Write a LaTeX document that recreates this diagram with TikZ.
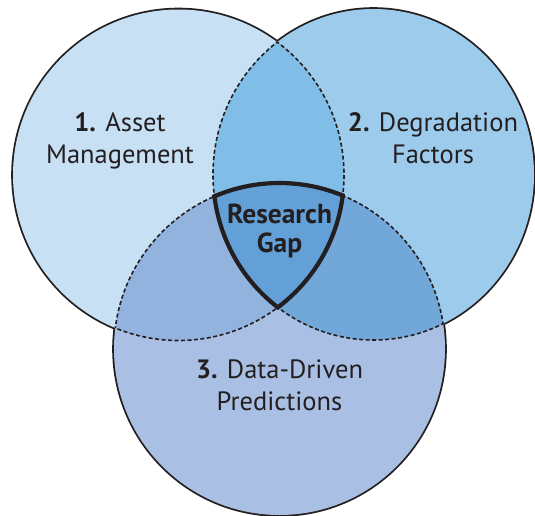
\documentclass[tikz,border=0pt]{standalone}
\usepackage{fontspec}
\setmainfont{PT Sans}
\begin{document}
\begin{tikzpicture}[x=1pt,y=-1pt,
  lbl/.style={align=center, text=ink, font=\fontsize{26.5}{32}\selectfont, inner sep=0pt},
  gaplbl/.style={align=center, text=ink, font=\bfseries\fontsize{27.5}{28.5}\selectfont, inner sep=0pt},
  outerline/.style={draw=ink, line width=3.6},
  innerline/.style={draw=ink, line width=1.6, dash pattern=on 4 off 2.5},
  gapline/.style={draw=ink, line width=4.2, line join=round}]
\definecolor{cA}{HTML}{C8E0F4}
\definecolor{cB}{HTML}{9DCBEC}
\definecolor{cC}{HTML}{AABFE4}
\definecolor{cAB}{HTML}{80BEE8}
\definecolor{cAC}{HTML}{93B3DF}
\definecolor{cBC}{HTML}{72A7DA}
\definecolor{cABC}{HTML}{63A0D7}
\definecolor{ink}{HTML}{231F20}
\useasboundingbox (0,0) rectangle (535,516);
\fill[white] (0,0) rectangle (535,516);
\coordinate (A) at (178.5,175);
\coordinate (B) at (373.5,174.5);
\coordinate (C) at (279.5,349);
% outer strokes (inner half later covered by fills)
\draw[outerline] (A) circle[x radius=165.5, y radius=165.5];
\draw[outerline] (B) circle[x radius=160.5, y radius=165.5];
\draw[outerline] (C) circle[x radius=165.5, y radius=166];
% fills
\fill[cA] (A) circle[x radius=165.5, y radius=165.5];
\fill[cB] (B) circle[x radius=160.5, y radius=165.5];
\fill[cC] (C) circle[x radius=165.5, y radius=166];
\begin{scope}
  \clip (A) circle[x radius=165.5, y radius=165.5];
  \fill[cAB] (B) circle[x radius=160.5, y radius=165.5];
  \fill[cAC] (C) circle[x radius=165.5, y radius=166];
\end{scope}
\begin{scope}
  \clip (B) circle[x radius=160.5, y radius=165.5];
  \fill[cBC] (C) circle[x radius=165.5, y radius=166];
\end{scope}
\begin{scope}
  \clip (A) circle[x radius=165.5, y radius=165.5];
  \clip (B) circle[x radius=160.5, y radius=165.5];
  \fill[cABC] (C) circle[x radius=165.5, y radius=166];
\end{scope}
% dashed inner arcs
\begin{scope}
  \clip (B) circle[x radius=160.5, y radius=165.5];
  \draw[innerline] (A) circle[x radius=165.5, y radius=165.5];
  \draw[innerline] (C) circle[x radius=165.5, y radius=166];
\end{scope}
\begin{scope}
  \clip (C) circle[x radius=165.5, y radius=166];
  \draw[innerline] (A) circle[x radius=165.5, y radius=165.5];
  \draw[innerline] (B) circle[x radius=160.5, y radius=165.5];
\end{scope}
\begin{scope}
  \clip (A) circle[x radius=165.5, y radius=165.5];
  \draw[innerline] (B) circle[x radius=160.5, y radius=165.5];
  \draw[innerline] (C) circle[x radius=165.5, y radius=166];
\end{scope}
% research gap outline
\begin{scope}
  \clip (B) circle[x radius=162.5, y radius=167.5];
  \clip (C) circle[x radius=167.5, y radius=168];
  \draw[gapline] (A) circle[x radius=165.5, y radius=165.5];
\end{scope}
\begin{scope}
  \clip (A) circle[x radius=167.5, y radius=167.5];
  \clip (C) circle[x radius=167.5, y radius=168];
  \draw[gapline] (B) circle[x radius=160.5, y radius=165.5];
\end{scope}
\begin{scope}
  \clip (A) circle[x radius=167.5, y radius=167.5];
  \clip (B) circle[x radius=162.5, y radius=167.5];
  \draw[gapline] (C) circle[x radius=165.5, y radius=166];
\end{scope}
% labels (base anchor = baseline of the last line)
\node[lbl, anchor=base] (la) at (120,163) {{\bfseries 1.} Asset\\Management};
\node[lbl, anchor=base] (lb) at (433,163) {{\bfseries 2.} Degradation\\Factors};
\node[lbl, anchor=base] (lc) at (279.5,410) {{\bfseries 3.} Data-Driven\\Predictions};
\node[gaplbl, anchor=base] (lg) at (279.5,252) {Research\\Gap};
\end{tikzpicture}
\end{document}
